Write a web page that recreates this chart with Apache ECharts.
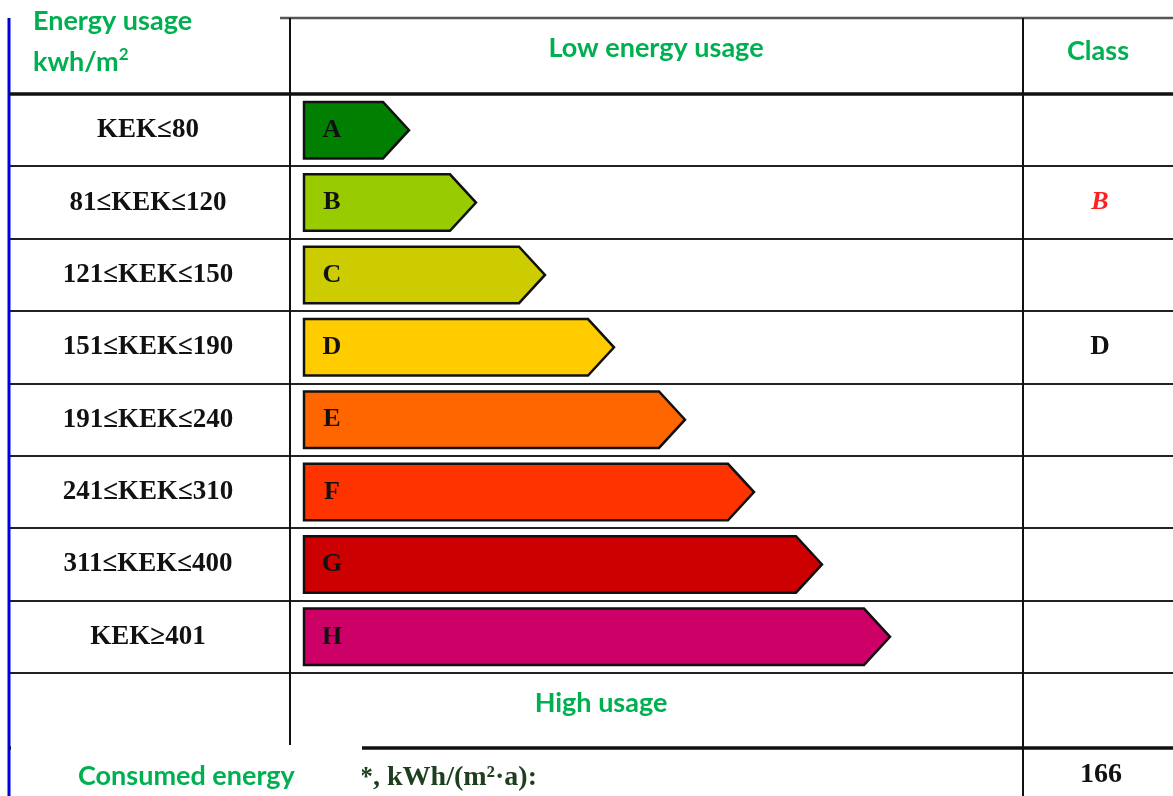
<!DOCTYPE html>
<html>
<head>
<meta charset="utf-8">
<script src="https://cdn.jsdelivr.net/npm/echarts@6/dist/echarts.min.js"></script>
<style>
  html, body { margin: 0; padding: 0; background: #fff; }
  #chart { width: 1173px; height: 796px; }
</style>
</head>
<body>
<div id="chart"></div>
<script>
// energy classes, top to bottom
const classes = ['A', 'B', 'C', 'D', 'E', 'F', 'G', 'H'];
const ranges = ['KEK≤80', '81≤KEK≤120', '121≤KEK≤150', '151≤KEK≤190',
  '191≤KEK≤240', '241≤KEK≤310', '311≤KEK≤400', 'KEK≥401'];
// arrow length (tip) per class
const arrowLength = [105, 172, 241, 310, 381, 450, 518, 586];
// marks in the "Class" column
const classMarks = ['', 'B', '', 'D', '', '', '', ''];
const consumed = 166;

const arrowColors = ['#007f00', '#99cc00', '#cccc00', '#ffcc00',
  '#ff6600', '#ff3300', '#cc0000', '#cc0066'];

const green = '#00b050';
const serif = '"Liberation Serif", "Times New Roman", serif';
const sans = 'Lato, "Open Sans", sans-serif';

const gridTop = 94, gridBottom = 673, W = 1173;
const rowH = (gridBottom - gridTop) / classes.length;

const chart = echarts.init(document.getElementById('chart'));

function hline(y, x1, x2, w, c) {
  return { type: 'line', z: 1, shape: { x1: x1, y1: y, x2: x2, y2: y },
    style: { stroke: c || '#111', lineWidth: w } };
}
function vline(x, y1, y2, w, c) {
  return { type: 'line', z: 1, shape: { x1: x, y1: y1, x2: x, y2: y2 },
    style: { stroke: c || '#111', lineWidth: w } };
}
function label(text, x, y, align, font, color, z) {
  return { type: 'text', z: z || 5, style: { text: text, x: x, y: y, align: align,
    verticalAlign: 'middle', font: font, fill: color } };
}

const lines = [];
for (let i = 1; i <= classes.length; i++) {
  lines.push(hline(Math.round(gridTop + i * rowH), 10, W, 2, '#222'));
}

const option = {
  animation: false,
  grid: { left: 304, right: 150, top: gridTop, bottom: 796 - gridBottom },
  xAxis: { type: 'value', min: 0, max: 719, show: false },
  yAxis: [
    {
      type: 'category', inverse: true, data: ranges,
      axisLine: { show: false }, axisTick: { show: false },
      axisLabel: { margin: 156, align: 'center', fontFamily: serif,
        fontWeight: 'bold', fontSize: 27, color: '#111' }
    },
    {
      type: 'category', inverse: true, position: 'right', data: classes,
      axisLine: { show: false }, axisTick: { show: false },
      axisLabel: {
        margin: 77, align: 'center',
        formatter: function (v, i) {
          const m = classMarks[i];
          if (!m) return '';
          return i === 1 ? '{target|' + m + '}' : '{actual|' + m + '}';
        },
        rich: {
          target: { fontFamily: serif, fontStyle: 'italic', fontWeight: 'bold',
            fontSize: 26, color: '#ff2020' },
          actual: { fontFamily: serif, fontWeight: 'bold', fontSize: 27, color: '#111' }
        }
      }
    }
  ],
  graphic: lines.concat([
    vline(9, 18, 796, 3, '#0000dd'),
    hline(18, 280, W, 2.5, '#555'),
    vline(290, 18, 745, 2),
    vline(1023, 18, 796, 2),
    hline(94, 10, W, 3.5),
    hline(748, 10, W, 3.5),
    { type: 'rect', z: 10, shape: { x: 11, y: 745, width: 351, height: 51 },
      style: { fill: '#fff' } },
    label('Energy usage', 33, 21, 'left', 'bold 27px ' + sans, green),
    { type: 'text', z: 5, style: { text: 'kwh/m{sup|2}', x: 33, y: 62, verticalAlign: 'middle',
      font: 'bold 27px ' + sans, fill: green,
      rich: { sup: { font: 'bold 17px ' + sans, fill: green, verticalAlign: 'top', padding: [0, 0, 14, 0] } } } },
    label('Low energy usage', 656, 48, 'center', 'bold 27px ' + sans, green),
    label('Class', 1098, 51, 'center', 'bold 27px ' + sans, green),
    label('High usage', 601, 703, 'center', 'bold 27px ' + sans, green),
    label('Consumed energy', 78, 776, 'left', 'bold 27px ' + sans, green, 12),
    label('*, kWh/(m²·a):', 359, 778, 'left', 'bold 28px ' + serif, '#1e3f1e', 5),
    label(String(consumed), 1101, 775, 'center', 'bold 28px ' + serif, '#111')
  ]),
  series: [{
    type: 'custom',
    yAxisIndex: 0,
    encode: { x: 0, y: 1 },
    data: arrowLength.map(function (v, i) { return [v, i]; }),
    renderItem: function (params, api) {
      const len = api.value(0), idx = api.value(1);
      const start = api.coord([0, idx]);
      const end = api.coord([len, idx]);
      const h = api.size([0, 1])[1] * 0.78;
      const tip = 26;
      const y0 = start[1] - h / 2, y1 = start[1] + h / 2;
      return {
        type: 'group',
        children: [
          { type: 'polygon',
            shape: { points: [[start[0], y0], [end[0] - tip, y0], [end[0], start[1]],
              [end[0] - tip, y1], [start[0], y1]] },
            style: { fill: arrowColors[idx], stroke: '#111', lineWidth: 2.5 } },
          { type: 'text',
            style: { text: classes[idx], x: start[0] + 28, y: start[1],
              align: 'center', verticalAlign: 'middle',
              font: 'bold 26px ' + serif, fill: '#111' } }
        ]
      };
    }
  }]
};

chart.setOption(option);
</script>
</body>
</html>
